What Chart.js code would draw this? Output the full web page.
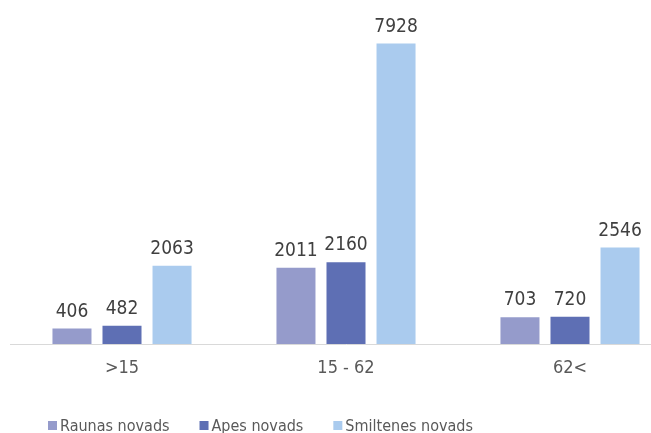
<!DOCTYPE html>
<html>
<head>
<meta charset="utf-8">
<script src="https://cdn.jsdelivr.net/npm/chart.js@4.4.1/dist/chart.umd.min.js"></script>
<style>
html,body{margin:0;padding:0;background:#fff;overflow:hidden;width:651px;height:433px;}
#wrap{position:absolute;left:0;top:0;width:690px;height:433px;}
</style>
</head>
<body>
<div id="wrap"><canvas id="c" width="690" height="433"></canvas></div>
<script>
const categories = ['>15', '15 - 62', '62<'];
const raunas = [406, 2011, 703];
const apes = [482, 2160, 720];
const smiltenes = [2063, 7928, 2546];
const seriesNames = ['Raunas novads', 'Apes novads', 'Smiltenes novads'];
const colors = ['#959BCB', '#5E6FB4', '#AACBEE'];

const FONT = '"DejaVu Sans Condensed", "DejaVu Sans", sans-serif';

const dataLabels = {
  id: 'dataLabels',
  afterDatasetsDraw(chart) {
    const ctx = chart.ctx;
    ctx.save();
    ctx.font = '19px ' + FONT;
    ctx.fillStyle = '#404040';
    ctx.textAlign = 'center';
    ctx.textBaseline = 'alphabetic';
    chart.data.datasets.forEach((ds, i) => {
      const meta = chart.getDatasetMeta(i);
      meta.data.forEach((el, j) => {
        ctx.fillText(String(ds.data[j]), el.x, el.y - 12);
      });
    });
    ctx.restore();
  }
};

const customLegend = {
  id: 'customLegend',
  afterDraw(chart) {
    const ctx = chart.ctx;
    ctx.save();
    ctx.font = '16px ' + FONT;
    ctx.textBaseline = 'alphabetic';
    ctx.textAlign = 'left';
    let x = 48;
    chart.data.datasets.forEach((ds) => {
      ctx.fillStyle = ds.backgroundColor;
      ctx.fillRect(x, 421, 9, 9);
      ctx.fillStyle = '#595959';
      ctx.fillText(ds.label, x + 12, 431);
      x += 12 + ctx.measureText(ds.label).width + 30;
    });
    ctx.restore();
  }
};

new Chart(document.getElementById('c'), {
  type: 'bar',
  data: {
    labels: categories,
    datasets: [
      { label: seriesNames[0], data: raunas, backgroundColor: colors[0] },
      { label: seriesNames[1], data: apes, backgroundColor: colors[1] },
      { label: seriesNames[2], data: smiltenes, backgroundColor: colors[2] }
    ]
  },
  options: {
    responsive: false,
    animation: false,
    devicePixelRatio: 1,
    categoryPercentage: 0.67,
    barPercentage: 0.78,
    layout: { padding: { left: 10, right: 8, top: 3, bottom: 0 } },
    plugins: {
      legend: { display: false },
      tooltip: { enabled: false }
    },
    scales: {
      x: {
        grid: { display: false, drawTicks: false },
        border: { display: true, color: '#D9D9D9', width: 1 },
        ticks: { color: '#595959', font: { family: FONT, size: 18 }, padding: 14 },
        afterFit(s) { s.height = 89; }
      },
      y: {
        display: false,
        min: 0,
        max: 9000
      }
    }
  },
  plugins: [dataLabels, customLegend]
});
</script>
</body>
</html>
